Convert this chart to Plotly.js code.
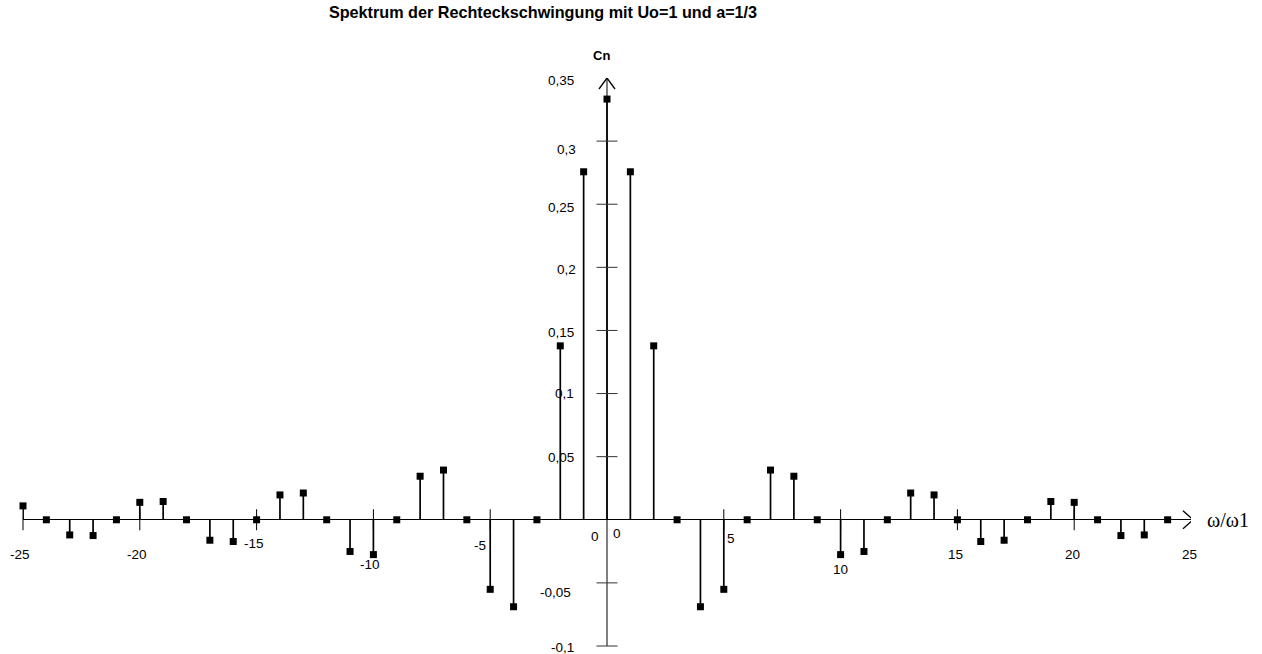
<!DOCTYPE html>
<html><head><meta charset="utf-8">
<script src="https://cdn.plot.ly/plotly-3.0.1.min.js"></script>
<style>html,body{margin:0;padding:0;background:#fff}#chart{width:1262px;height:654px}</style>
</head><body><div id="chart"></div>
<script>
// ---- data ----
const harmonics = [-25,-24,-23,-22,-21,-20,-19,-18,-17,-16,-15,-14,-13,-12,-11,-10,-9,-8,-7,-6,-5,-4,-3,-2,-1,
  0,1,2,3,4,5,6,7,8,9,10,11,12,13,14,15,16,17,18,19,20,21,22,23,24];
const coefficients = [0.011,0,-0.012,-0.0125,0,0.0138,0.0145,0,-0.0162,-0.0172,0,0.0197,0.0212,0,-0.0251,-0.0276,0,0.0345,0.0394,0,-0.0551,-0.0689,0,0.1378,0.2757,
  0.3333,0.2757,0.1378,0,-0.0689,-0.0551,0,0.0394,0.0345,0,-0.0276,-0.0251,0,0.0212,0.0197,0,-0.0172,-0.0162,0,0.0145,0.0138,0,-0.0125,-0.012,0];
const xTickValues = [-25,-20,-15,-10,-5,0,5,10,15,20,25];
const xTickLabels = ['-25','-20','-15','-10','-5','0','5','10','15','20','25'];
const xTickMarks = [-25,-20,-15,-10,-5,5,10,15,20];
const yTickValues = [-0.1,-0.05,0,0.05,0.1,0.15,0.2,0.25,0.3,0.35];
const yTickLabels = ['-0,1','-0,05','0','0,05','0,1','0,15','0,2','0,25','0,3','0,35'];
const yTickMarks = [-0.1,-0.05,0.05,0.1,0.15,0.2,0.25,0.3];
const chartTitle = 'Spektrum der Rechteckschwingung mit Uo=1 und a=1/3';
const yTitle = 'Cn';
const xTitle = '\u03c9/\u03c91';

// ---- label placement (pixel offsets, layout only) ----
const xLabelShift = [[-3,-35],[-3,-35],[-3,-24],[-3,-45],[-10,-26],[10,-14],[7,-19],[0,-50],[-2,-35],[-2,-35],[-2,-35]];
const yLabelShift = [[-31,-1],[-34,-10],[-6,-17],[-31,-1],[-31,0],[-31,-2],[-29,-2],[-31,-3],[-29,-8],[-31,-2]];

const FONT = 'Liberation Sans, Arial, sans-serif';
const xRange = [-25, 25];
const yRange = [-0.1, 0.35];

// stems
const sx = [], sy = [];
harmonics.forEach((n, i) => { sx.push(n, n, null); sy.push(0, coefficients[i], null); });

const traces = [
  {x: sx, y: sy, type: 'scatter', mode: 'lines', line: {color: '#000', width: 1.7}, hoverinfo: 'skip', showlegend: false},
  {x: xTickMarks, y: xTickMarks.map(() => 0), type: 'scatter', mode: 'markers', cliponaxis: false,
   marker: {symbol: 'line-ns', size: 15, line: {color: '#000', width: 1}}, hoverinfo: 'skip', showlegend: false},
  {x: yTickMarks.map(() => 0), y: yTickMarks, type: 'scatter', mode: 'markers', cliponaxis: false,
   marker: {symbol: 'line-ew', size: 15, line: {color: '#333', width: 1}}, hoverinfo: 'skip', showlegend: false},
  {x: harmonics, y: coefficients, type: 'scatter', mode: 'markers', cliponaxis: false,
   marker: {symbol: 'square', size: 7, color: '#000'}, showlegend: false}
];

const annotations = xTickValues.map((v, i) => ({
  x: v, y: 0, xref: 'x', yref: 'y', text: xTickLabels[i], showarrow: false,
  xshift: xLabelShift[i][0], yshift: xLabelShift[i][1],
  font: {family: FONT, size: 13.5, color: '#000'}
}));
yTickValues.forEach((v, i) => annotations.push({
  x: 0, y: v, xref: 'x', yref: 'y', text: yTickLabels[i], showarrow: false, xanchor: 'right',
  xshift: yLabelShift[i][0], yshift: yLabelShift[i][1],
  font: {family: FONT, size: 13.5, color: '#000'}
}));
annotations.push({x: 0, y: yRange[1], xref: 'x', yref: 'y', text: yTitle, showarrow: false, xshift: -6, yshift: 23,
  font: {family: FONT, size: 13, color: '#000', weight: 'bold'}});
annotations.push({x: xRange[1], y: 0, xref: 'x', yref: 'y', text: xTitle, showarrow: false, xanchor: 'left', xshift: 14, yshift: 0,
  font: {family: 'Liberation Serif, Times New Roman, serif', size: 20, color: '#000'}});

const layout = {
  width: 1262, height: 654,
  margin: {l: 23, r: 71, t: 78, b: 8, autoexpand: false},
  paper_bgcolor: '#fff', plot_bgcolor: '#fff',
  separators: ',.',
  title: {text: chartTitle, x: 543/1262, xref: 'container', xanchor: 'center', y: 1 - 12/654, yref: 'container', yanchor: 'middle',
    font: {family: FONT, size: 16.2, color: '#000', weight: 'bold'}},
  xaxis: {range: xRange, showgrid: false, showticklabels: false, ticks: '', zeroline: true, zerolinecolor: '#808080', zerolinewidth: 1.5,
    showline: false, fixedrange: true},
  yaxis: {range: yRange, showgrid: false, showticklabels: false, ticks: '', zeroline: true, zerolinecolor: '#000', zerolinewidth: 1,
    showline: false, fixedrange: true},
  annotations: annotations,
  shapes: [
    {type: 'path', xref: 'x', yref: 'y', xsizemode: 'pixel', ysizemode: 'pixel', xanchor: xRange[1], yanchor: 0,
     path: 'M-8,9 L2,0 L-8,-9', line: {color: '#000', width: 1.3}},
    {type: 'path', xref: 'x', yref: 'y', xsizemode: 'pixel', ysizemode: 'pixel', xanchor: 0, yanchor: yRange[1],
     path: 'M-8,-11 L0,0 L8,-11', line: {color: '#000', width: 1.3}}
  ],
  showlegend: false
};

Plotly.newPlot('chart', traces, layout, {displayModeBar: false, staticPlot: true});
</script>
</body></html>
